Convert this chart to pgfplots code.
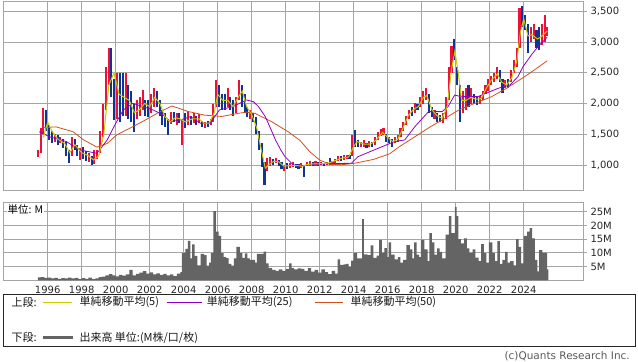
\documentclass[border=0pt]{standalone}
\usepackage{pgfplots}
\pgfplotsset{compat=1.18}
\usepackage{pgfplotstable}
\usepackage{fontspec}
\setmainfont{DejaVu Sans}
\newfontfamily\jp{Noto Sans CJK JP}
\definecolor{cRed}{RGB}{238,16,56}
\definecolor{cBlue}{RGB}{16,52,150}
\definecolor{maFive}{RGB}{195,205,0}
\definecolor{maTwentyfive}{RGB}{140,0,200}
\definecolor{maFifty}{RGB}{210,80,30}
\definecolor{cVol}{RGB}{100,100,100}
\definecolor{cGrid}{RGB}{165,165,165}

% up candles: x low high
\pgfplotstableread{
x lo hi
1995.42 1130 1250
1995.58 1200 1600
1995.75 1500 1930
1996.42 1380 1500
1996.75 1360 1460
1997.42 1150 1460
1997.92 1080 1280
1998.42 1050 1200
1998.75 1020 1240
1998.92 1100 1250
1999.08 1200 1550
1999.25 1450 2000
1999.42 1900 2600
1999.58 2300 2900
2000.08 1750 2500
2000.58 1800 2500
2001.25 1750 2050
2001.42 1800 2100
2001.58 1900 2220
2002.08 1850 2150
2002.25 1950 2260
2003.25 1660 1870
2003.58 1650 1850
2003.92 1330 1750
2004.25 1650 1880
2004.58 1680 1850
2004.92 1680 1830
2005.25 1600 1700
2005.58 1650 1750
2005.75 1700 2000
2005.92 1950 2380
2006.58 1950 2250
2007.08 1850 2100
2007.25 2050 2380
2007.92 1750 1900
2008.92 900 1120
2009.08 980 1130
2009.42 1030 1120
2009.92 900 1000
2010.25 950 1030
2010.42 970 1050
2010.92 950 1030
2011.25 980 1050
2011.42 990 1070
2011.75 990 1060
2012.08 1000 1050
2012.42 1000 1050
2012.75 1010 1070
2012.92 1040 1100
2013.08 1060 1140
2013.42 1080 1160
2013.58 1100 1170
2013.92 1150 1490
2014.42 1290 1370
2014.58 1300 1400
2014.92 1300 1390
2015.25 1320 1450
2015.42 1400 1530
2015.58 1470 1580
2015.75 1480 1600
2016.42 1350 1450
2016.58 1380 1480
2016.75 1450 1600
2016.92 1550 1700
2017.08 1650 1800
2017.25 1750 1900
2017.58 1850 2010
2017.92 1950 2100
2018.08 2000 2200
2018.25 2050 2260
2018.75 1750 1900
2019.25 1680 1850
2019.42 1750 2100
2019.58 2050 2600
2019.75 2500 2930
2020.42 1850 2200
2020.58 1900 2250
2020.92 2000 2250
2021.42 2000 2120
2021.58 2050 2200
2021.75 2150 2300
2021.92 2200 2400
2022.08 2300 2450
2022.25 2350 2500
2022.42 2400 2600
2022.92 2250 2380
2023.25 2350 2550
2023.42 2500 2700
2023.58 2600 2900
2023.75 2900 3550
2024.42 3000 3250
2024.58 3050 3300
2025.08 2950 3300
2025.25 3000 3440
2025.38 3100 3250
}\upc

% down candles: x low high
\pgfplotstableread{
x lo hi
1995.92 1550 1900
1996.08 1400 1650
1996.25 1360 1550
1996.58 1330 1480
1996.92 1280 1420
1997.08 1150 1380
1997.25 1040 1250
1997.58 1250 1420
1997.75 1150 1330
1998.08 1100 1300
1998.25 1060 1220
1998.58 1000 1150
1999.75 2100 2900
1999.92 1730 2400
2000.25 1700 2500
2000.42 1800 2500
2000.75 1750 2300
2000.92 1700 2200
2001.08 1540 2000
2001.75 1800 2050
2001.92 1780 2050
2002.42 1950 2200
2002.58 1800 2050
2002.75 1650 1900
2002.92 1620 1850
2003.08 1490 1750
2003.42 1700 1870
2003.75 1680 1850
2004.08 1600 1850
2004.42 1650 1800
2004.75 1650 1800
2005.08 1620 1720
2005.42 1620 1720
2006.08 1950 2300
2006.25 1900 2150
2006.42 1900 2150
2006.75 1900 2100
2006.92 1800 2050
2007.42 1950 2300
2007.58 1850 2150
2007.75 1780 1950
2008.08 1700 1850
2008.25 1500 1780
2008.42 1250 1550
2008.58 970 1350
2008.75 680 1050
2009.25 1000 1100
2009.58 980 1080
2009.75 930 1050
2010.08 930 1030
2010.58 950 1020
2010.75 930 1010
2011.08 810 1000
2011.58 980 1050
2011.92 990 1050
2012.25 980 1040
2012.58 1000 1110
2013.25 1070 1150
2013.75 1090 1160
2014.08 1300 1570
2014.25 1300 1400
2014.75 1280 1360
2015.08 1290 1370
2015.92 1380 1500
2016.08 1350 1460
2016.25 1300 1420
2017.42 1800 1950
2017.75 1900 2000
2018.42 1850 2150
2018.58 1780 1950
2018.92 1700 1850
2019.08 1700 1820
2019.92 2700 3050
2020.08 2300 2600
2020.25 1700 2300
2020.75 1950 2300
2021.08 2000 2150
2021.25 1980 2100
2022.58 2350 2550
2022.75 2170 2400
2023.08 2250 2400
2023.92 3250 3590
2024.08 3200 3440
2024.25 2820 3300
2024.75 2900 3200
2024.92 2870 3250
}\dnc

\pgfplotstableread{
x y
1995.75 1450
1996.0 1700
1996.25 1550
1996.6 1420
1997.0 1350
1997.3 1200
1997.6 1330
1998.0 1200
1998.4 1150
1998.7 1080
1999.0 1150
1999.3 1500
1999.6 2300
1999.9 2500
2000.2 2150
2000.5 2100
2000.8 2050
2001.1 1850
2001.4 1900
2001.7 2000
2002.0 1950
2002.3 2100
2002.6 2000
2002.9 1780
2003.2 1700
2003.5 1770
2003.8 1750
2004.1 1700
2004.5 1750
2004.9 1750
2005.2 1680
2005.5 1680
2005.8 1850
2006.0 2150
2006.3 2050
2006.6 2050
2006.9 1950
2007.2 2100
2007.45 2200
2007.7 1950
2008.0 1820
2008.3 1600
2008.6 1200
2008.8 950
2009.0 1000
2009.3 1060
2009.6 1050
2009.9 980
2010.3 990
2010.7 990
2011.0 980
2011.3 1010
2011.7 1020
2012.0 1020
2012.5 1030
2012.9 1070
2013.3 1110
2013.7 1130
2014.0 1300
2014.2 1380
2014.6 1340
2015.0 1340
2015.3 1400
2015.7 1530
2016.0 1450
2016.3 1380
2016.6 1420
2016.9 1600
2017.2 1800
2017.5 1900
2017.8 1950
2018.1 2100
2018.3 2130
2018.6 1900
2018.9 1800
2019.2 1760
2019.5 1950
2019.75 2550
2019.95 2850
2020.15 2500
2020.35 2050
2020.6 2050
2020.9 2100
2021.2 2070
2021.5 2080
2021.8 2250
2022.1 2380
2022.45 2480
2022.7 2350
2023.0 2300
2023.3 2420
2023.6 2700
2023.8 3150
2024.0 3380
2024.25 3100
2024.5 3120
2024.8 3050
2025.0 3080
2025.38 3180
}\mafive

\pgfplotstableread{
x y
1995.5 1542
1996.1 1460
1997.1 1380
1997.9 1244
1998.9 1190
1999.5 1407
2000.0 1678
2000.45 1895
2001.0 2003
2001.6 1950
2002.2 1895
2002.8 1813
2003.2 1705
2003.8 1732
2004.4 1786
2005.0 1678
2005.55 1678
2006.1 1895
2006.9 1950
2007.7 2058
2008.1 2030
2008.4 1950
2008.8 1786
2009.1 1600
2009.4 1407
2009.7 1250
2009.96 1135
2010.45 1000
2010.8 990
2011.4 1000
2012.0 1017
2013.0 1025
2013.86 1027
2014.25 1135
2015.43 1271
2016.4 1380
2017.0 1407
2017.6 1624
2018.4 1868
2019.2 1868
2019.55 1950
2019.94 2139
2020.3 2112
2021.3 2112
2022.5 2248
2023.2 2302
2023.66 2437
2023.96 2600
2024.45 2790
2024.84 2925
2025.38 3080
}\matwentyfive

\pgfplotstableread{
x y
1995.75 1610
1996.5 1620
1997.0 1580
1997.5 1540
1998.1 1410
1998.9 1290
1999.5 1350
2000.06 1490
2000.84 1600
2001.6 1710
2002.5 1850
2003.3 1960
2004.27 1870
2005.25 1810
2006.24 1790
2007.2 1840
2007.7 1860
2008.2 1840
2009.2 1700
2010.15 1540
2010.84 1400
2011.4 1220
2012.0 1080
2012.6 1010
2013.3 1005
2014.0 1025
2015.15 1090
2016.1 1180
2016.7 1300
2017.6 1460
2018.5 1620
2019.5 1780
2020.15 1890
2021.0 1990
2022.1 2110
2023.0 2250
2024.07 2440
2024.8 2580
2025.38 2695
}\mafifty

\pgfplotstableread{
x v
1995.42 1.1
1995.6 1.2
1995.8 0.9
1996.0 1.0
1996.2 0.7
1996.4 0.9
1996.6 0.6
1996.8 0.8
1997.0 0.7
1997.2 1.0
1997.4 0.7
1997.6 0.9
1997.8 0.5
1998.0 0.8
1998.2 0.6
1998.4 1.0
1998.6 0.5
1998.8 0.7
1999.0 1.2
1999.2 1.4
1999.4 1.8
1999.6 2.3
1999.8 1.8
2000.0 1.5
2000.2 2.0
2000.4 1.7
2000.6 2.2
2000.8 3.8
2001.0 1.8
2001.2 2.4
2001.4 2.8
2001.6 3.4
2001.8 2.5
2002.0 2.9
2002.2 2.2
2002.4 2.6
2002.6 2.0
2002.8 2.4
2003.0 1.8
2003.2 2.2
2003.4 1.6
2003.6 2.5
2003.8 3.0
2003.9 9.9
2004.1 11.5
2004.25 14.4
2004.4 8.0
2004.5 13.1
2004.65 8.9
2004.8 5.5
2005.0 9.6
2005.2 9.2
2005.35 5.4
2005.5 6.5
2005.6 9.9
2005.75 25.2
2005.9 17.7
2006.05 16.2
2006.2 9.9
2006.35 8.5
2006.5 8.1
2006.65 6.0
2006.8 5.4
2006.95 8.0
2007.1 12.2
2007.3 10.0
2007.45 8.2
2007.6 9.8
2007.75 8.0
2007.9 7.5
2008.05 7.5
2008.2 6.5
2008.3 9.6
2008.5 9.6
2008.7 10.5
2008.85 6.2
2009.0 4.5
2009.2 3.8
2009.4 3.5
2009.6 4.0
2009.8 3.5
2010.0 4.2
2010.2 6.2
2010.35 4.5
2010.5 4.0
2010.7 4.4
2010.9 4.2
2011.1 3.5
2011.3 4.5
2011.5 3.2
2011.7 3.8
2011.9 2.8
2012.1 4.0
2012.3 3.0
2012.5 2.3
2012.7 3.5
2012.9 2.5
2013.05 7.6
2013.2 5.6
2013.4 5.8
2013.55 6.0
2013.7 4.8
2013.85 7.2
2014.0 10.0
2014.2 8.0
2014.5 22.3
2014.6 9.5
2014.8 9.2
2015.0 12.7
2015.15 8.2
2015.35 9.0
2015.5 14.7
2015.65 10.0
2015.8 11.7
2015.95 8.5
2016.05 13.8
2016.2 9.4
2016.4 7.6
2016.6 8.5
2016.75 6.5
2016.9 7.5
2017.1 12.8
2017.3 11.3
2017.45 8.0
2017.55 13.8
2017.7 9.4
2017.85 8.5
2017.95 14.7
2018.15 11.3
2018.35 7.0
2018.45 17.2
2018.6 13.8
2018.75 9.4
2018.9 11.6
2019.05 10.4
2019.2 8.0
2019.4 16.6
2019.6 23.4
2019.75 17.2
2019.95 26.6
2020.05 23.4
2020.15 15.0
2020.3 13.5
2020.5 15.3
2020.65 11.6
2020.8 10.0
2021.0 11.3
2021.15 8.3
2021.35 7.0
2021.5 13.2
2021.65 9.9
2021.8 6.5
2021.95 13.8
2022.15 9.9
2022.3 7.0
2022.45 14.3
2022.6 6.0
2022.75 7.5
2022.9 10.4
2023.05 6.5
2023.2 7.0
2023.4 5.5
2023.55 15.0
2023.7 12.2
2023.85 6.2
2024.0 16.2
2024.2 17.7
2024.35 19.0
2024.5 15.3
2024.65 7.5
2024.8 3.3
2024.9 11.0
2025.1 10.0
2025.3 9.9
2025.38 4.0
2025.45 4.0
}\vol

\begin{document}
\begin{tikzpicture}
\path[use as bounding box] (0,0) rectangle (638bp,-362bp);
\pgfplotsset{
  every axis/.append style={
    scale only axis,
    axis line style={cGrid},
    grid=major,
    grid style={cGrid, line width=0.8bp},
    tick align=outside,
    major tick length=4bp,
    xtick style={draw=none},
    ytick style={cGrid, line width=0.8bp},
    ytick pos=right,
    yticklabel pos=right,
    ticklabel style={font=\fontsize{10bp}{12bp}\selectfont, text=black!85},
    /pgf/number format/assume math mode=true,
  }
}
\begin{axis}[at={(3bp,-1bp)}, anchor=north west,
  width=580bp, height=189bp,
  xmin=1993.371, xmax=2027.488, ymin=593, ymax=3668,
  xtick={1996,1998,...,2024}, xticklabels={},
  ytick={1000,1500,...,3500},
  yticklabel style={/pgf/number format/.cd, fixed, 1000 sep={,}},
  clip=true]
\addplot[draw=none, mark=none, forget plot, error bars/.cd, y dir=plus, y explicit, error mark=none,
  error bar style={draw=cRed, line width=2.1bp}]
  table[x=x, y=lo, y error plus expr=\thisrow{hi}-\thisrow{lo}] {\upc};
\addplot[draw=none, mark=none, forget plot, error bars/.cd, y dir=plus, y explicit, error mark=none,
  error bar style={draw=cBlue, line width=2.1bp}]
  table[x=x, y=lo, y error plus expr=\thisrow{hi}-\thisrow{lo}] {\dnc};
\addplot[draw=maFifty, line width=0.8bp, mark=none] table[x=x, y=y] {\mafifty};
\addplot[draw=maTwentyfive, line width=0.8bp, mark=none] table[x=x, y=y] {\matwentyfive};
\addplot[draw=maFive, line width=1bp, mark=none] table[x=x, y=y] {\mafive};
\end{axis}

\begin{axis}[at={(3bp,-201.7bp)}, anchor=north west,
  width=580bp, height=78.7bp,
  xmin=1993.371, xmax=2027.488, ymin=0, ymax=28.6,
  xtick={1996,1998,...,2024},
  xticklabels={1996,1998,2000,2002,2004,2006,2008,2010,2012,2014,2016,2018,2020,2022,2024},
  xticklabel style={yshift=2bp},
  ytick={5,10,15,20,25},
  yticklabels={5M,10M,15M,20M,25M}]
\addplot[const plot, fill=cVol, draw=none, mark=none] table[x=x, y=v] {\vol} \closedcycle;
\end{axis}

\node[anchor=west, fill=white, inner sep=1bp, font=\jp\fontsize{10.5bp}{12bp}\selectfont] at (6.5bp,-209.5bp) {単位: M};

% legend
\draw[black!85, line width=0.9bp] (3bp,-294.3bp) rectangle (635.3bp,-346bp);
\node[anchor=west, inner sep=0pt, font=\jp\fontsize{11bp}{13bp}\selectfont, text=black!90] at (11.5bp,-302bp) {上段:};
\fill[maFive] (43bp,-301.6bp) rectangle (72bp,-302.6bp);
\node[anchor=west, inner sep=0pt, font=\jp\fontsize{11bp}{13bp}\selectfont, text=black!90] at (79.3bp,-302bp) {単純移動平均(5)};
\fill[maTwentyfive] (166.7bp,-301.6bp) rectangle (201.7bp,-302.6bp);
\node[anchor=west, inner sep=0pt, font=\jp\fontsize{11bp}{13bp}\selectfont, text=black!90] at (206.7bp,-302bp) {単純移動平均(25)};
\fill[maFifty] (315bp,-301.6bp) rectangle (343bp,-302.6bp);
\node[anchor=west, inner sep=0pt, font=\jp\fontsize{11bp}{13bp}\selectfont, text=black!90] at (350.3bp,-302bp) {単純移動平均(50)};
\node[anchor=west, inner sep=0pt, font=\jp\fontsize{11bp}{13bp}\selectfont, text=black!90] at (11.5bp,-337.5bp) {下段:};
\fill[cVol] (43.3bp,-335.8bp) rectangle (73.3bp,-339.2bp);
\node[anchor=west, inner sep=0pt, font=\jp\fontsize{11bp}{13bp}\selectfont, text=black!90] at (79.3bp,-337.5bp) {出来高 単位:(M株/口/枚)};
\node[anchor=east, inner sep=0pt, text=black!65, font=\fontsize{10.5bp}{12bp}\selectfont] at (630bp,-356.5bp) {(c)Quants Research Inc.};
\end{tikzpicture}
\end{document}
